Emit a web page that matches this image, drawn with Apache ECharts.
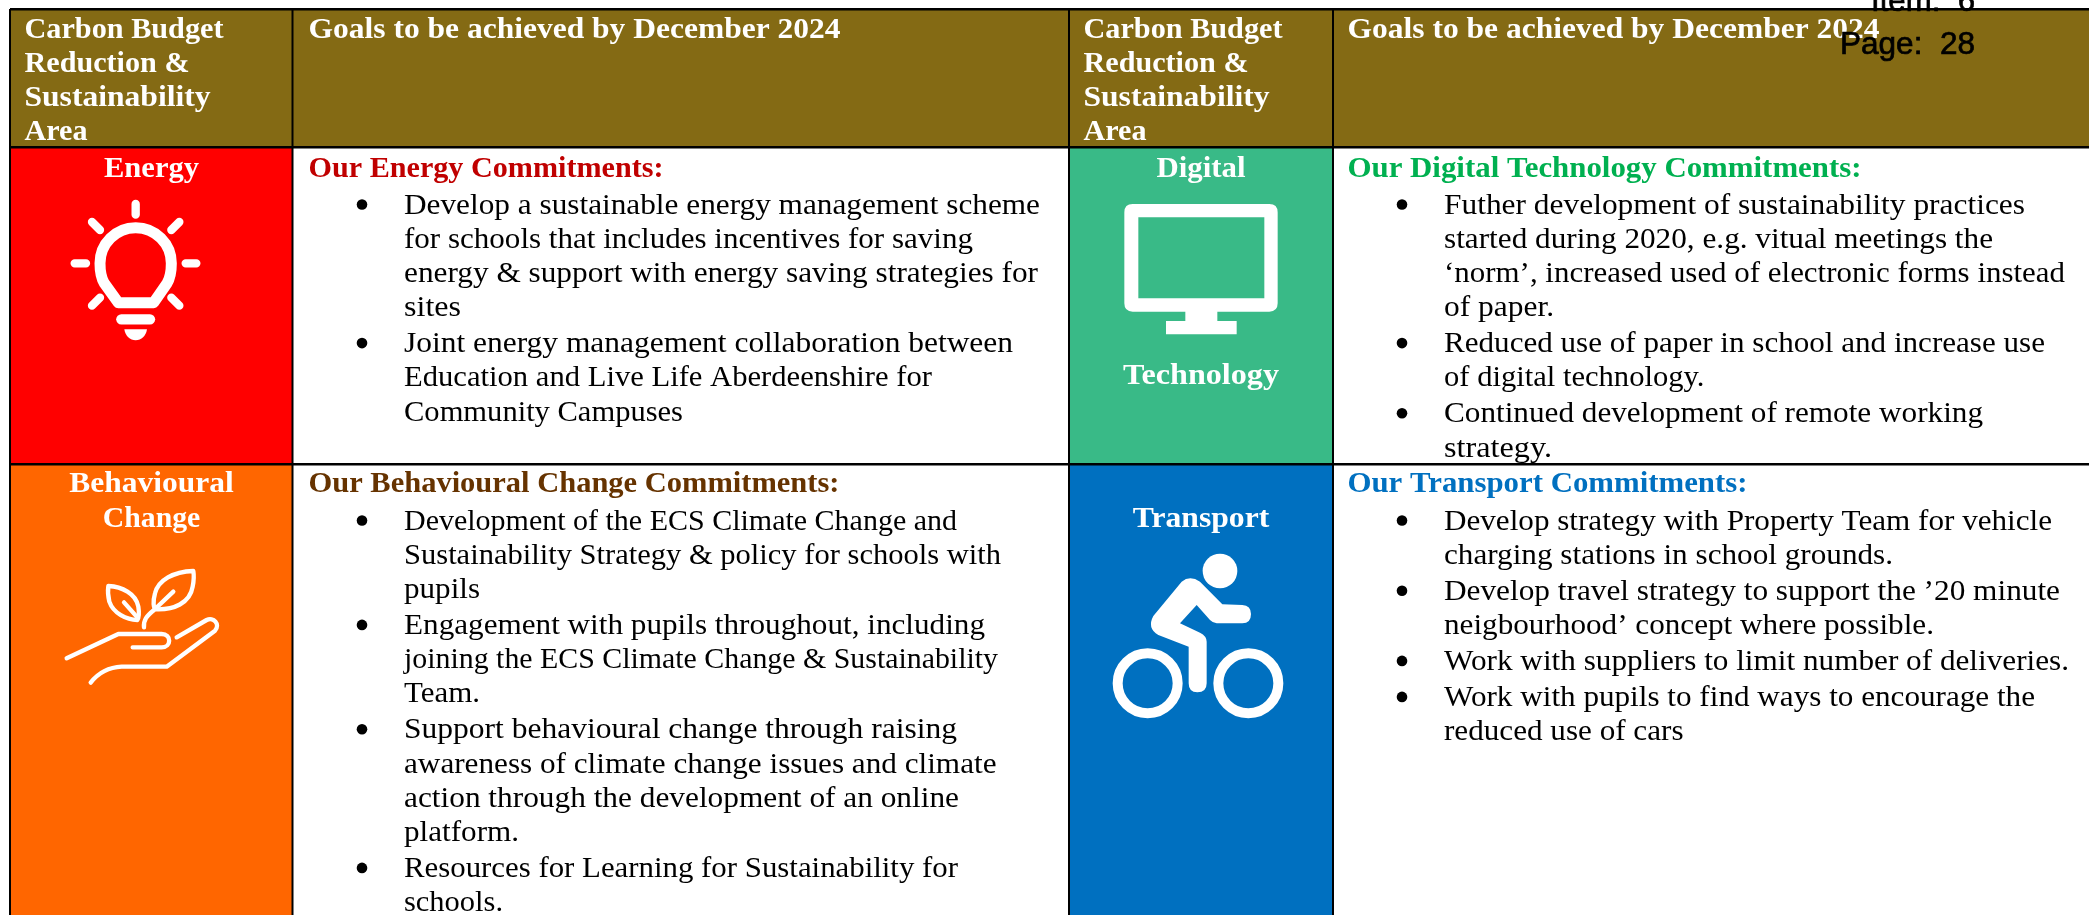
<!DOCTYPE html>
<html>
<head>
<meta charset="utf-8">
<script src="https://cdn.jsdelivr.net/npm/echarts@6/dist/echarts.min.js"></script>
<style>html,body{margin:0;padding:0;background:#fff}#c{width:2089px;height:915px}</style>
</head>
<body>
<div id="c"></div>
<script>
// ---- table content ----
const headerArea = ["Carbon Budget", "Reduction &", "Sustainability", "Area"];
const headerGoals = "Goals to be achieved by December 2024";
const energyLabel = ["Energy"];
const digitalLabel = ["Digital", "Technology"];
const behaviourLabel = ["Behavioural", "Change"];
const transportLabel = ["Transport"];
const energyTitle = "Our Energy Commitments:";
const digitalTitle = "Our Digital Technology Commitments:";
const behaviourTitle = "Our Behavioural Change Commitments:";
const transportTitle = "Our Transport Commitments:";
const energyItems = [
  ["Develop a sustainable energy management scheme", "for schools that includes incentives for saving", "energy & support with energy saving strategies for", "sites"],
  ["Joint energy management collaboration between", "Education and Live Life Aberdeenshire for", "Community Campuses"]
];
const digitalItems = [
  ["Futher development of sustainability practices", "started during 2020, e.g. vitual meetings the", "\u2018norm\u2019, increased used of electronic forms instead", "of paper."],
  ["Reduced use of paper in school and increase use", "of digital technology."],
  ["Continued development of remote working", "strategy."]
];
const behaviourItems = [
  ["Development of the ECS Climate Change and", "Sustainability Strategy & policy for schools with", "pupils"],
  ["Engagement with pupils throughout, including", "joining the ECS Climate Change & Sustainability", "Team."],
  ["Support behavioural change through raising", "awareness of climate change issues and climate", "action through the development of an online", "platform."],
  ["Resources for Learning for Sustainability for", "schools."]
];
const transportItems = [
  ["Develop strategy with Property Team for vehicle", "charging stations in school grounds."],
  ["Develop travel strategy to support the \u201920 minute", "neigbourhood\u2019 concept where possible."],
  ["Work with suppliers to limit number of deliveries."],
  ["Work with pupils to find ways to encourage the", "reduced use of cars"]
];
const stampLines = ["Item:  6", "Page:  28"];

// ---- layout and style (separate from content) ----
const W = 2089, H = 915;
const SERIF = '"Liberation Serif", serif', SANS = '"Liberation Sans", sans-serif';
const FS = 29, MID = 0.24;           // font size; baseline offset of vertical middle, in em
const headerWidths = [199, 165, 186, 63];
const energyWidths = [[636, 569, 634, 57], [609, 528, 279]];
const digitalWidths = [[581, 549, 621, 110], [601, 260.5], [539, 108]];
const behaviourWidths = [[553, 597, 76], [581, 594, 76], [553, 592.5, 555, 115], [554, 99]];
const transportWidths = [[608, 449], [616, 490], [625], [591, 239.5]];

const mc = document.createElement('canvas').getContext('2d');
function measure(text, font) { mc.font = font; return mc.measureText(text).width; }

function txt(text, x, base, o) {
  o = o || {};
  const size = o.size || FS, family = o.family || SERIF, w = o.bold ? 'bold ' : '';
  const natural = measure(text, w + size + 'px ' + family);
  const style = {
    text: text, fontSize: size, fontFamily: family, fontWeight: o.bold ? 'bold' : 'normal',
    fill: o.fill || '#000', align: o.align || 'left', verticalAlign: 'middle'
  };
  if (o.heavy) { style.stroke = '#000'; style.lineWidth = o.heavy; }
  return {
    type: 'text', x: x, y: base - MID * size,
    scaleX: o.width ? o.width / natural : 1.06,
    style: style
  };
}
function rect(x, y, w, h, fill) {
  return { type: 'rect', shape: { x: x, y: y, width: w, height: h }, style: { fill: fill } };
}
function bulleted(items, widths, x0, base) {
  const out = []; let y = base;
  items.forEach(function (lines, k) {
    out.push({ type: 'circle', shape: { cx: x0 - 42, cy: y - 8.5, r: 5.3 }, style: { fill: '#000' } });
    lines.forEach(function (l, i) {
      out.push(txt(l, x0, y, { width: widths[k][i] }));
      y += i === lines.length - 1 ? 36 : 34.2;
    });
  });
  return out;
}
function icon(ox, oy, parts) {   // icon drawn in 3x crop units
  return { type: 'group', x: ox, y: oy, scaleX: 1 / 3, scaleY: 1 / 3, children: parts };
}
function sp(d, w) {
  return { type: 'path', shape: { pathData: d },
    style: { fill: 'none', stroke: '#fff', lineWidth: w, lineCap: 'round', lineJoin: 'round' } };
}
function fp(d) { return { type: 'path', shape: { pathData: d }, style: { fill: '#fff' } }; }

const bulb = icon(50, 180, [
  sp('M257,72 L257,104 M126,126 L150,150 M388,126 L364,150 M74,250 L108,250 M407,250 L439,250 M126,377 L150,353 M388,377 L364,353', 25),
  sp('M205,368 L163,310 C153,294 150,272 150,250 A107,107 0 0 1 364,250 C364,272 361,294 351,310 L311,368 Z', 33),
  sp('M214,418 L300,418', 31),
  fp('M223,448 L291,448 C288,468 274,481 257,481 C240,481 226,468 223,448 Z')
]);
const plant = icon(50, 560, [
  sp('M430,33 C370,35 325,60 315,100 C308,125 310,145 318,148 C370,150 420,130 428,80 C432,60 432,45 430,33 Z', 13),
  sp('M175,78 C215,80 258,100 265,140 C268,160 268,172 262,180 C230,180 190,160 178,125 C174,108 173,92 175,78 Z', 13),
  sp('M370,95 L312,150 C290,168 280,180 282,202 M222,127 L262,172', 13),
  sp('M50,295 L205,222 L335,222 C365,222 365,262 335,262 L248,262', 13),
  sp('M380,232 L470,180 C490,170 512,192 495,212 L350,320 L215,320 C170,322 140,345 122,368', 13)
]);
const monitor = icon(1110, 190, [
  fp('M68,42 L478,42 Q503,42 503,67 L503,340 Q503,365 478,365 L322,365 L322,393 L380,393 L380,433 L168,433 L168,393 L226,393 L226,365 L68,365 Q43,365 43,340 L43,67 Q43,42 68,42 Z M85,82 L85,325 L463,325 L463,82 Z')
]);
const bike = icon(1100, 540, [
  { type: 'circle', shape: { cx: 360, cy: 93, r: 52 }, style: { fill: '#fff' } },
  { type: 'circle', shape: { cx: 143, cy: 430, r: 90 }, style: { fill: 'none', stroke: '#fff', lineWidth: 30 } },
  { type: 'circle', shape: { cx: 445, cy: 430, r: 90 }, style: { fill: 'none', stroke: '#fff', lineWidth: 30 } },
  fp('M245,125 Q270,105 300,125 L367,193 L427,195 Q453,197 453,222 Q453,250 427,250 L350,250 Q340,250 330,240 L290,195 L240,250 L300,278 Q320,288 320,305 L320,430 Q320,457 292,457 Q266,457 266,430 L266,320 L175,285 Q140,265 160,228 Z')
]);

// columns (edges) and rows (edges)
const X0 = 10, X1 = 292.5, X2 = 1069, X3 = 1333;
const Y0 = 9, Y1 = 147, Y2 = 464;
const C1 = 151.5, C3 = 1201, T2 = 308.5, T4 = 1347.5, B2 = 404, B4 = 1444, H1 = 24.5, H3 = 1083.5;

function labels(lines, cx, bases, widths) {
  return lines.map(function (l, i) { return txt(l, cx, bases[i], { bold: true, fill: '#fff', align: 'center', width: widths[i] }); });
}
const hd = (l, x, y, w) => txt(l, x, y, { bold: true, fill: '#fff', width: w });
const cells = [
  // background fills
  () => [rect(X0, Y0, W - X0, Y1 - Y0, '#846A14')],
  () => [rect(X0, Y1, X1 - X0, Y2 - Y1, '#FF0000'), bulb].concat(labels(energyLabel, C1, [176], [95])),
  () => [rect(X2, Y1, X3 - X2, Y2 - Y1, '#39BA87'), monitor].concat(labels(digitalLabel, C3, [176, 383], [89, 156])),
  () => [rect(X0, Y2, X1 - X0, H - Y2, '#FF6600'), plant].concat(labels(behaviourLabel, C1, [491.5, 526.5], [164.5, 97.5])),
  () => [rect(X2, Y2, X3 - X2, H - Y2, '#0070C0'), bike].concat(labels(transportLabel, C3, [526.5], [136.5])),
  // header text
  () => headerArea.map((l, i) => hd(l, H1, 37 + i * 34.3, headerWidths[i]))
        .concat(headerArea.map((l, i) => hd(l, H3, 37 + i * 34.3, headerWidths[i])))
        .concat([hd(headerGoals, T2, 37, 532), hd(headerGoals, T4, 37, 532)]),
  // commitments
  () => [txt(energyTitle, T2, 176, { bold: true, fill: '#C00000', width: 355 })].concat(bulleted(energyItems, energyWidths, B2, 213)),
  () => [txt(digitalTitle, T4, 176, { bold: true, fill: '#00B050', width: 514 })].concat(bulleted(digitalItems, digitalWidths, B4, 213)),
  () => [txt(behaviourTitle, T2, 491.5, { bold: true, fill: '#663300', width: 531 })].concat(bulleted(behaviourItems, behaviourWidths, B2, 529)),
  () => [txt(transportTitle, T4, 491.5, { bold: true, fill: '#0070C0', width: 400 })].concat(bulleted(transportItems, transportWidths, B4, 529)),
  // grid lines
  () => [
    rect(X0, Y0 - 1, W - X0, 2.5, '#000'), rect(X0, Y1 - 1, W - X0, 2.5, '#000'), rect(X0, Y2 - 1, W - X0, 2.5, '#000'),
    rect(X0 - 1, Y0, 2, H - Y0, '#000'), rect(X1 - 1, Y0, 2, H - Y0, '#000'), rect(X2 - 1, Y0, 2, H - Y0, '#000'), rect(X3 - 1, Y0, 2, H - Y0, '#000')
  ],
  // page stamp
  () => [
    txt(stampLines[0], 1871, 10, { size: 32, family: SANS, width: 104, heavy: 0.7 }),
    txt(stampLines[1], 1840, 53, { size: 32, family: SANS, width: 135, heavy: 0.7 })
  ]
];

const chart = echarts.init(document.getElementById('c'), null, { renderer: 'canvas' });
chart.setOption({
  animation: false,
  backgroundColor: '#fff',
  series: [{
    type: 'custom', coordinateSystem: 'none', silent: true, clip: false,
    data: cells.map((_, i) => [i]),
    renderItem: function (params) {
      return { type: 'group', children: cells[params.dataIndex]() };
    }
  }]
});
</script>
</body>
</html>
